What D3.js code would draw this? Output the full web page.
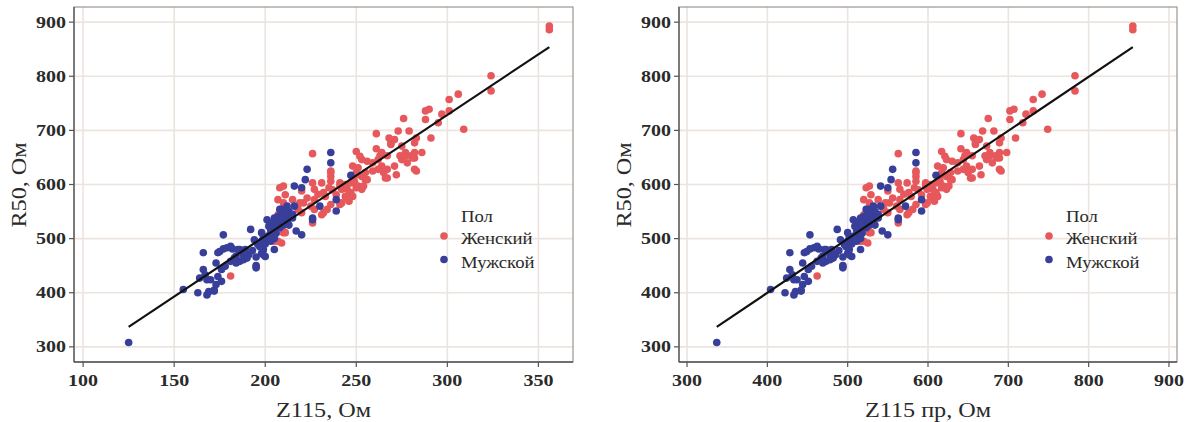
<!DOCTYPE html>
<html>
<head>
<meta charset="utf-8">
<script src="https://cdn.jsdelivr.net/npm/d3@7"></script>
<style>
  body { margin: 0; background: #fff; }
  svg { display: block; }
</style>
</head>
<body>
<svg id="chart" width="1192" height="422"></svg>
<script>
// ---- data ----
const femaleZ115 = [181,195,205,208,207,226,236,236,211,210,227,231,227,235,233,242,241,232,226,221,218,209,210,
  250,253,250,253,247,251,245,244,253,248,255,261,261,268,273,269,262,264,267,271,275,266,277,282,282,280,276,279,259,256,
  356,356,324,324,306,301,301,297,309,290,295,288,283,291,286,282,277,275,
  252,248,251,255,250,249,256,254,250,247,245,242,239,236,234,231,263,264,267,274,265,272,278,269,271,282,283,281,262,259,267,288,
  226,236,236,220,210,215,232,241,210,220,225,227,241,246,207,205,206,207,211,
  223,219,229,237,244]
const femaleZ115pr = [462,494,516,523,520,563,585,585,529,527,565,574,565,583,579,599,597,576,563,552,545,525,527,
  617,623,617,623,610,619,606,603,623,612,628,641,641,657,668,659,644,648,655,664,673,653,677,689,689,684,675,682,637,630,
  855,855,783,783,742,731,731,722,749,707,718,702,691,709,698,689,677,673,
  621,612,619,628,617,615,630,626,617,610,606,599,592,585,581,574,646,648,655,671,650,666,680,659,664,689,691,686,644,637,655,702,
  563,585,585,550,527,538,576,597,527,550,561,565,597,608,520,516,518,520,529,
  556,547,570,588,603]
const femaleR50 = [431,449,495,594,544,657,625,615,581,566,591,603,572,594,578,591,603,548,529,566,554,492,513,
  661,646,622,615,603,597,591,578,591,578,609,694,666,686,699,674,646,634,628,634,646,612,659,677,628,653,722,699,625,643,
  893,886,801,773,767,757,736,730,702,739,714,720,686,686,659,649,653,671,
  652,634,631,622,618,606,609,597,594,585,575,566,581,563,554,544,653,659,653,653,622,618,640,677,683,659,625,649,628,640,612,736,
  603,622,606,588,597,572,585,597,511,548,560,554,563,569,495,535,526,572,511,
  575,566,582,590,600]

const maleZ115 = [125,155,163,168,169,172,166,166,167,168,164,173,170,173,174,175,177,179,182,177,176,178,181,184,186,188,190,183,186,189,
  192,194,196,198,199,201,203,204,205,205,195,236,236,223,222,216,220,216,208,210,230,239,239,226,217,220,247,
  172,176,174,181,185,195,195,198,199,201,207,209,212,226,210,
  196,198,200,202,203,205,206,207,209,211,212,213,214,208,206,200,202,210,213,215,205,197,191,188,184,193,199,
  199,202,205,208,210,203,200,212,215]
const maleZ115pr = [337,404,422,433,435,442,428,428,431,433,424,444,437,444,446,449,453,458,464,453,451,455,462,469,473,478,482,467,473,480,
  487,491,496,500,502,507,511,514,516,516,494,585,585,556,554,541,550,541,523,527,572,592,592,563,543,550,610,
  442,451,446,462,471,494,494,500,502,507,520,525,532,563,527,
  496,500,505,509,511,516,518,520,525,529,532,534,536,523,518,505,509,527,534,538,516,498,485,478,469,489,502,
  502,509,516,523,527,511,505,532,538]
const maleR50 = [308,406,400,396,402,403,474,443,433,424,427,455,424,415,430,476,481,483,481,507,443,449,458,455,458,461,464,464,480,480,
  517,498,489,473,480,504,517,529,538,480,466,659,640,628,609,597,594,560,554,548,560,572,551,538,514,507,617,
  405,421,474,486,480,450,446,511,498,535,541,554,560,535,538,
  490,495,500,505,510,515,522,530,535,545,530,550,540,520,510,490,497,525,525,545,500,485,470,470,468,478,470,
  504,523,532,538,544,495,467,532,538]

// fitted line ends
const lineZ115 = [125, 356]
const lineZ115pr = [337, 855]
const lineR50 = [337, 854]

const yTicks = [300, 400, 500, 600, 700, 800, 900]
const xTicksLeft = [100, 150, 200, 250, 300, 350]
const xTicksRight = [300, 400, 500, 600, 700, 800, 900]
const legendTitle = "Пол"
const sexLabels = ["Женский", "Мужской"]
const sexColors = ["#e6585b", "#383f9a"]

const svg = d3.select("#chart")
const serif = "'Liberation Serif', 'Times New Roman', serif"

function label(g, x, y, txt, size, anchor, sx, rot, weight) {
  return g.append("text")
    .attr("transform", "translate(" + x + "," + y + ")" + (rot ? " rotate(" + rot + ")" : "") + " scale(" + sx + ",1)")
    .attr("text-anchor", anchor)
    .attr("dy", "0.35em")
    .attr("font-family", serif)
    .attr("font-size", size)
    .attr("font-weight", weight || "normal")
    .attr("fill", "#2a2a2a")
    .text(txt)
}

function drawPanel(cfg) {
  const g = svg.append("g")
  const x = d3.scaleLinear().domain(cfg.xDomain).range([cfg.left, cfg.right])
  const y = d3.scaleLinear().domain([272, 928]).range([362, 7])

  // grid
  g.selectAll(".vg").data(cfg.xTicks).enter().append("line")
    .attr("x1", d => x(d)).attr("x2", d => x(d))
    .attr("y1", 7).attr("y2", 362)
    .attr("stroke", "#ebe4df").attr("stroke-width", 1.6)
  g.selectAll(".hg").data(yTicks).enter().append("line")
    .attr("x1", cfg.left).attr("x2", cfg.right)
    .attr("y1", d => y(d)).attr("y2", d => y(d))
    .attr("stroke", "#ebe4df").attr("stroke-width", 1.6)

  // frame
  g.append("rect")
    .attr("x", cfg.left).attr("y", 7)
    .attr("width", cfg.right - cfg.left).attr("height", 355)
    .attr("fill", "none").attr("stroke", "#9a9590").attr("stroke-width", 1.2)

  // points, women first then men
  const fx = cfg.female, mx = cfg.male
  g.selectAll(".f").data(d3.range(fx.length)).enter().append("circle")
    .attr("cx", i => x(fx[i])).attr("cy", i => y(femaleR50[i]))
    .attr("r", 3.8).attr("fill", sexColors[0])
  g.selectAll(".m").data(d3.range(mx.length)).enter().append("circle")
    .attr("cx", i => x(mx[i])).attr("cy", i => y(maleR50[i]))
    .attr("r", 3.8).attr("fill", sexColors[1])

  // regression line
  g.append("line")
    .attr("x1", x(cfg.line[0])).attr("y1", y(lineR50[0]))
    .attr("x2", x(cfg.line[1])).attr("y2", y(lineR50[1]))
    .attr("stroke", "#111").attr("stroke-width", 2.2)

  // axes lines and ticks
  g.append("line").attr("x1", cfg.left).attr("x2", cfg.left).attr("y1", 7).attr("y2", 362)
    .attr("stroke", "#555").attr("stroke-width", 1.3)
  g.append("line").attr("x1", cfg.left).attr("x2", cfg.right).attr("y1", 362).attr("y2", 362)
    .attr("stroke", "#555").attr("stroke-width", 1.3)
  cfg.xTicks.forEach(t => {
    g.append("line").attr("x1", x(t)).attr("x2", x(t)).attr("y1", 362).attr("y2", 367)
      .attr("stroke", "#555").attr("stroke-width", 1.2)
    label(g, x(t), 380, t, 16, "middle", 1.25, 0, "bold")
  })
  yTicks.forEach(t => {
    g.append("line").attr("x1", cfg.left - 5).attr("x2", cfg.left).attr("y1", y(t)).attr("y2", y(t))
      .attr("stroke", "#555").attr("stroke-width", 1.2)
    label(g, cfg.left - 8, y(t), t, 16, "end", 1.25, 0, "bold")
  })

  // axis titles
  label(g, (cfg.left + cfg.right) / 2, 409, cfg.xTitle, 22, "middle", 1.1)
  label(g, cfg.left - 56, 185, "R50, Ом", 22, "middle", 1.1, -90)

  // legend
  const lx = cfg.left + 387
  label(g, lx, 216.5, legendTitle, 17, "start", 1.1)
  sexLabels.forEach((s, i) => {
    g.append("circle").attr("cx", lx - 17).attr("cy", 236 + i * 23.5).attr("r", 3.8).attr("fill", sexColors[i])
    label(g, lx, 238.5 + i * 23.5, s, 17, "start", 1.1)
  })
}

drawPanel({ left: 74, right: 573, xDomain: [95, 369], xTicks: xTicksLeft,
  female: femaleZ115, male: maleZ115, line: lineZ115, xTitle: "Z115, Ом" })
drawPanel({ left: 679, right: 1177, xDomain: [290, 910], xTicks: xTicksRight,
  female: femaleZ115pr, male: maleZ115pr, line: lineZ115pr, xTitle: "Z115 пр, Ом" })
</script>
</body>
</html>
